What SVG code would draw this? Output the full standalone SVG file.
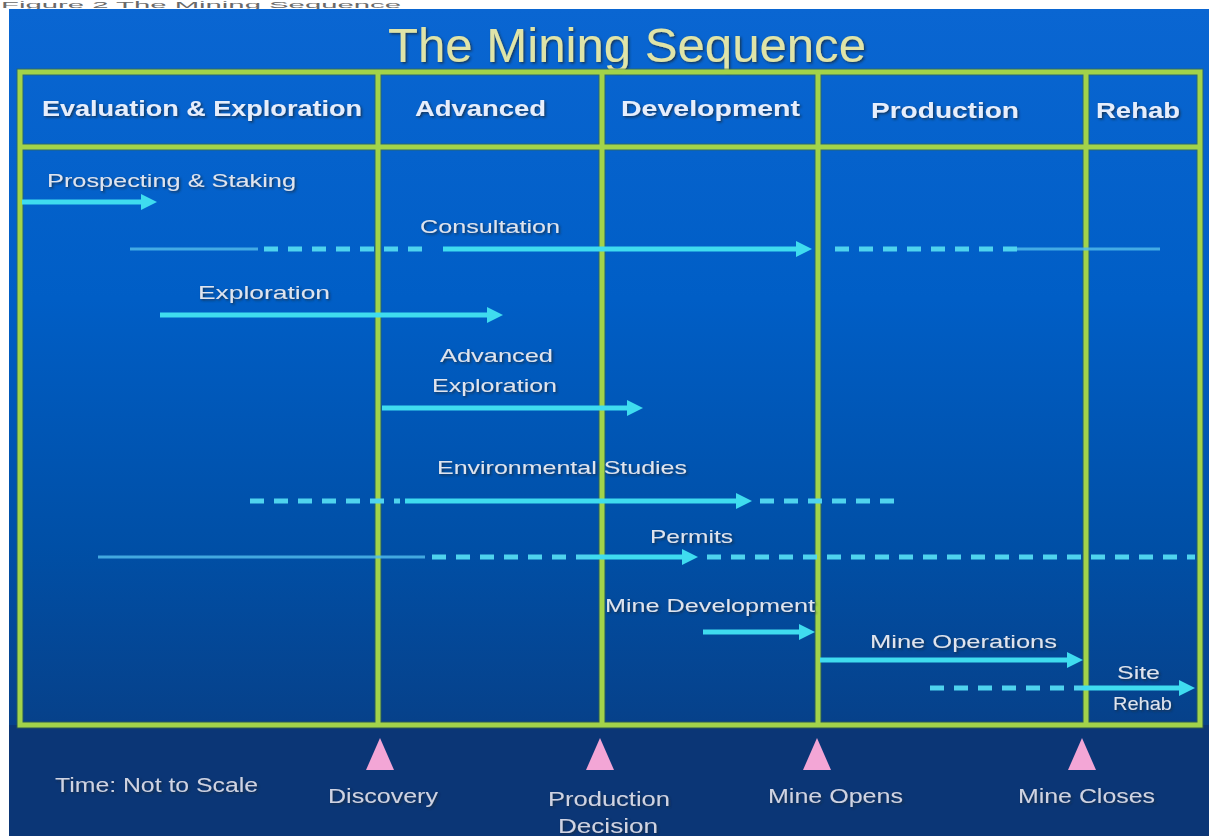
<svg xmlns="http://www.w3.org/2000/svg" width="1209" height="836" viewBox="0 0 1209 836">
<defs>
<linearGradient id="bg" x1="0" y1="0" x2="0" y2="1">
<stop offset="0" stop-color="#0a66d2"/>
<stop offset="0.35" stop-color="#005ec6"/>
<stop offset="0.65" stop-color="#004fa6"/>
<stop offset="0.85" stop-color="#06428c"/>
<stop offset="1" stop-color="#0b3676"/>
</linearGradient>
<filter id="sh" x="-10%" y="-30%" width="120%" height="160%">
<feDropShadow dx="1.5" dy="1.5" stdDeviation="0.8" flood-color="#1a2a40" flood-opacity="0.8"/>
</filter>
<marker id="ah" viewBox="0 0 16 16" refX="4" refY="8" markerWidth="16" markerHeight="16" markerUnits="userSpaceOnUse" orient="auto">
<path d="M0,0 L16,8 L0,16 z" fill="#3fdcef"/>
</marker>
<style>
.cap{font-family:"Liberation Sans",Arial,sans-serif;font-size:9px;fill:#6a6a6a}
.title{font-family:"Liberation Sans",Arial,sans-serif;font-size:49px;fill:#dfe4a8;filter:url(#sh)}
.hd{font-family:"Liberation Sans",Arial,sans-serif;font-size:22px;font-weight:bold;fill:#e6eefc;filter:url(#sh)}
.lb{font-family:"Liberation Sans",Arial,sans-serif;font-size:19px;fill:#dfe4ee;filter:url(#sh)}
.bt{font-family:"Liberation Sans",Arial,sans-serif;font-size:20px;fill:#cfd3e2;filter:url(#sh)}
.grid{stroke:#a2d34a;stroke-width:5;fill:none}
.gridd{stroke:#3f6a3a;stroke-width:7;fill:none;opacity:0.6}
.solid{stroke:#3fdcef;stroke-width:5;fill:none}
.dash{stroke:#4fd3ee;stroke-width:5;fill:none;stroke-dasharray:14 10}
.thin{stroke:#4fb8ea;stroke-width:3;fill:none;opacity:0.85}
.tri{fill:#f3a6d6}
</style>
</defs>
<rect x="0" y="0" width="1209" height="836" fill="#ffffff"/>
<text class="cap" x="1" y="8" textLength="400" lengthAdjust="spacingAndGlyphs">Figure 2 The Mining Sequence</text>
<rect x="9" y="9" width="1200" height="827" fill="url(#bg)"/>
<rect x="9" y="725" width="1200" height="111" fill="#0b3676"/>
<text class="title" x="627" y="62" text-anchor="middle" textLength="478" lengthAdjust="spacingAndGlyphs">The Mining Sequence</text>

<g id="grid">
<g class="gridd">
<rect x="20" y="72" width="1180" height="653"/>
<line x1="20" y1="147" x2="1200" y2="147"/>
<line x1="378" y1="72" x2="378" y2="725"/>
<line x1="602" y1="72" x2="602" y2="725"/>
<line x1="818" y1="72" x2="818" y2="725"/>
<line x1="1086" y1="72" x2="1086" y2="725"/>
</g>
<g class="grid">
<rect x="20" y="72" width="1180" height="653"/>
<line x1="20" y1="147" x2="1200" y2="147"/>
<line x1="378" y1="72" x2="378" y2="725"/>
<line x1="602" y1="72" x2="602" y2="725"/>
<line x1="818" y1="72" x2="818" y2="725"/>
<line x1="1086" y1="72" x2="1086" y2="725"/>
</g>
</g>

<g id="headers">
<text class="hd" x="42" y="116" textLength="320" lengthAdjust="spacingAndGlyphs">Evaluation &amp; Exploration</text>
<text class="hd" x="415" y="116" textLength="131" lengthAdjust="spacingAndGlyphs">Advanced</text>
<text class="hd" x="621" y="116" textLength="179" lengthAdjust="spacingAndGlyphs">Development</text>
<text class="hd" x="871" y="118" textLength="148" lengthAdjust="spacingAndGlyphs">Production</text>
<text class="hd" x="1096" y="118" textLength="84" lengthAdjust="spacingAndGlyphs">Rehab</text>
</g>

<g id="connectors">
<line class="solid" x1="22" y1="202" x2="145" y2="202" marker-end="url(#ah)"/>

<line class="thin" x1="130" y1="249" x2="258" y2="249"/>
<line class="dash" x1="264" y1="249" x2="432" y2="249"/>
<line class="solid" x1="443" y1="249" x2="800" y2="249" marker-end="url(#ah)"/>
<line class="dash" x1="835" y1="249" x2="1017" y2="249"/>
<line class="thin" x1="1017" y1="249" x2="1160" y2="249"/>

<line class="solid" x1="160" y1="315" x2="491" y2="315" marker-end="url(#ah)"/>

<line class="solid" x1="382" y1="408" x2="631" y2="408" marker-end="url(#ah)"/>

<line class="dash" x1="250" y1="501" x2="400" y2="501"/>
<line class="solid" x1="405" y1="501" x2="740" y2="501" marker-end="url(#ah)"/>
<line class="dash" x1="760" y1="501" x2="900" y2="501"/>

<line class="thin" x1="98" y1="557" x2="425" y2="557"/>
<line class="dash" x1="432" y1="557" x2="590" y2="557"/>
<line class="solid" x1="590" y1="557" x2="686" y2="557" marker-end="url(#ah)"/>
<line class="dash" x1="707" y1="557" x2="1195" y2="557"/>

<line class="solid" x1="703" y1="632" x2="803" y2="632" marker-end="url(#ah)"/>

<line class="solid" x1="820" y1="660" x2="1071" y2="660" marker-end="url(#ah)"/>

<line class="dash" x1="930" y1="688" x2="1082" y2="688"/>
<line class="solid" x1="1082" y1="688" x2="1183" y2="688" marker-end="url(#ah)"/>
</g>

<g id="labels">
<text class="lb" x="47" y="187" textLength="249" lengthAdjust="spacingAndGlyphs">Prospecting &amp; Staking</text>
<text class="lb" x="420" y="233" textLength="140" lengthAdjust="spacingAndGlyphs">Consultation</text>
<text class="lb" x="198" y="299" textLength="132" lengthAdjust="spacingAndGlyphs">Exploration</text>
<text class="lb" x="440" y="362" textLength="113" lengthAdjust="spacingAndGlyphs">Advanced</text>
<text class="lb" x="432" y="392" textLength="125" lengthAdjust="spacingAndGlyphs">Exploration</text>
<text class="lb" x="437" y="474" textLength="250" lengthAdjust="spacingAndGlyphs">Environmental Studies</text>
<text class="lb" x="650" y="543" textLength="83" lengthAdjust="spacingAndGlyphs">Permits</text>
<text class="lb" x="605" y="612" textLength="210" lengthAdjust="spacingAndGlyphs">Mine Development</text>
<text class="lb" x="870" y="648" textLength="187" lengthAdjust="spacingAndGlyphs">Mine Operations</text>
<text class="lb" x="1117" y="679" textLength="43" lengthAdjust="spacingAndGlyphs">Site</text>
<text class="lb" x="1113" y="710" textLength="59" lengthAdjust="spacingAndGlyphs">Rehab</text>
</g>

<g id="milestones">
<g id="m-discovery">
<path class="tri" d="M380,738 L394,770 L366,770 z"/>
<text class="bt" x="328" y="803" textLength="110" lengthAdjust="spacingAndGlyphs">Discovery</text>
</g>
<g id="m-production">
<path class="tri" d="M600,738 L614,770 L586,770 z"/>
<text class="bt" x="548" y="806" textLength="122" lengthAdjust="spacingAndGlyphs">Production</text>
<text class="bt" x="558" y="833" textLength="100" lengthAdjust="spacingAndGlyphs">Decision</text>
</g>
<g id="m-opens">
<path class="tri" d="M817,738 L831,770 L803,770 z"/>
<text class="bt" x="768" y="803" textLength="135" lengthAdjust="spacingAndGlyphs">Mine Opens</text>
</g>
<g id="m-closes">
<path class="tri" d="M1082,738 L1096,770 L1068,770 z"/>
<text class="bt" x="1018" y="803" textLength="137" lengthAdjust="spacingAndGlyphs">Mine Closes</text>
</g>
<text class="bt" x="55" y="792" textLength="203" lengthAdjust="spacingAndGlyphs">Time: Not to Scale</text>
</g>
</svg>
